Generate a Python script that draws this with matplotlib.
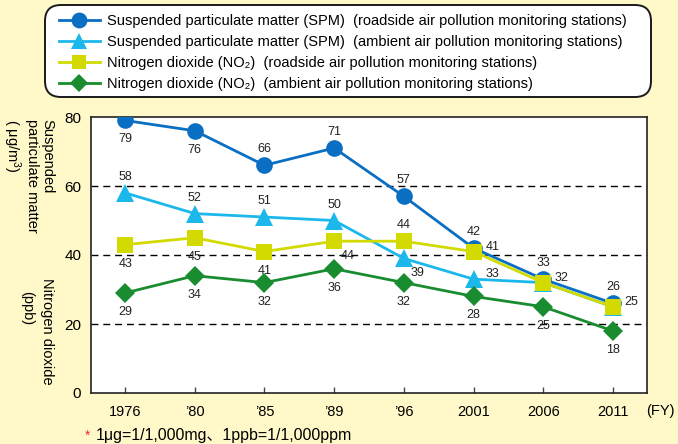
import numpy as np
import matplotlib
matplotlib.use('Agg')
import matplotlib.pyplot as plt
from matplotlib.patches import FancyBboxPatch

plt.rcParams['font.family'] = ['Liberation Sans', 'DejaVu Sans', 'Noto Sans CJK JP']
plt.rcParams['mathtext.fontset'] = 'custom'
plt.rcParams['mathtext.rm'] = 'Liberation Sans'
plt.rcParams['mathtext.it'] = 'Liberation Sans'
plt.rcParams['mathtext.default'] = 'regular'

# Data (fiscal years, SPM in ug/m3, NO2 in ppb)
years = ['1976', '\u201980', '\u201985', '\u201989', '\u201996', '2001', '2006', '2011']
spm_road = [79, 76, 66, 71, 57, 42, 33, 26]
spm_ambient = [58, 52, 51, 50, 39, 33, 32, 25]
no2_road = [43, 45, 41, 44, 44, 41, 32, 25]
no2_ambient = [29, 34, 32, 36, 32, 28, 25, 18]

# where each value label sits: a=above, b=below, r=right, br=below right, ''=none
place_spm_road = ['b', 'b', 'a', 'a', 'a', 'a', 'a', 'a']
place_spm_amb = ['a', 'a', 'a', 'a', 'br', 'r', '', '']
place_no2_road = ['b', 'b', 'b', 'br', 'a', 'r', 'r', 'r']
place_no2_amb = ['b'] * 8

offsets = {'a': (0, 11.5), 'b': (0, -13.7), 'r': (13.5, 3.6), 'br': (10, -10.8)}

bg = '#FFF8C8'
c_road = '#0A6EC2'
c_amb = '#1CB8EC'
c_no2r = '#D2DA00'
c_no2a = '#1A8C30'

fig = plt.figure(figsize=(6.78, 4.44), dpi=100)
fig.patch.set_facecolor(bg)
W, H = 678, 444
ax = fig.add_axes([91 / W, 1 - 393 / H, (647 - 91) / W, (393 - 117) / H])
ax.set_facecolor('white')

x = np.arange(len(years))

series = [
    (spm_road, place_spm_road, c_road, 'o', 12,
     'Suspended particulate matter (SPM)  (roadside air pollution monitoring stations)'),
    (spm_ambient, place_spm_amb, c_amb, '^', 12.5,
     'Suspended particulate matter (SPM)  (ambient air pollution monitoring stations)'),
    (no2_road, place_no2_road, c_no2r, 's', 11,
     'Nitrogen dioxide (NO\u2082)  (roadside air pollution monitoring stations)'),
    (no2_ambient, place_no2_amb, c_no2a, 'D', 10,
     'Nitrogen dioxide (NO\u2082)  (ambient air pollution monitoring stations)'),
]

for yv in [20, 40, 60]:
    ax.axhline(yv, color='black', lw=1, ls=(0, (5, 3.5)), zorder=1)

handles = []
for vals, places, col, mk, ms, lab in series:
    ln, = ax.plot(x, vals, color=col, lw=2, marker=mk, markersize=ms,
                  markeredgewidth=0, label=lab, zorder=3)
    handles.append(ln)
    for xi, v, p in zip(x, vals, places):
        if not p:
            continue
        dx, dy = offsets[p]
        ax.annotate(str(v), (xi, v), xytext=(dx, dy), textcoords='offset points',
                    ha='center', va='center', fontsize=9, color='#222222', zorder=4)

ax.set_xlim(-0.49, 7.49)
ax.set_ylim(0, 80)
ax.set_yticks([0, 20, 40, 60, 80])
ax.set_xticks(x)
ax.set_xticklabels(years)
ax.tick_params(axis='y', length=0, pad=7, labelsize=11)
ax.tick_params(axis='x', direction='in', length=4.5, width=1, color='#444444',
               pad=9, labelsize=10.5)
for s in ax.spines.values():
    s.set_linewidth(1.2)
    s.set_color('#222222')

fig.text(646 / W, 1 - 411 / H, '(FY)', fontsize=10.5, ha='left', va='center')

# y-axis titles
fig.text(28 / W, 1 - 119 / H, 'Suspended\nparticulate matter\n( \u03bcg/m$^3$)',
         rotation=-90, ha='center', va='top', multialignment='left',
         fontsize=10.5, linespacing=1.15)
fig.text(47 / W, 1 - 331 / H, 'Nitrogen dioxide', rotation=-90,
         ha='center', va='center', fontsize=10.5)
fig.text(27 / W, 1 - 308 / H, '(ppb)', rotation=-90,
         ha='center', va='center', fontsize=10.5)

# footnote
fig.text(85 / W, 1 - 436 / H, '*', color='#E8303A', fontsize=10, ha='left', va='center')
fig.text(96 / W, 1 - 435 / H, '1\u03bcg=1/1,000mg\u30011ppb=1/1,000ppm',
         fontsize=11.4, ha='left', va='center',
         family=['Liberation Sans', 'Noto Sans CJK JP'])

# legend box
box = FancyBboxPatch((45, H - 97), 606, 92, boxstyle='round,pad=0,rounding_size=16',
                     transform=None, facecolor='white', edgecolor='#1a1a1a',
                     linewidth=1.4, zorder=0)
fig.patches.append(box)
fig.legend(handles=handles, loc='upper left', bbox_to_anchor=(59 / W, 1 - 14.5 / H),
           frameon=False, fontsize=10.5, handlelength=2.8, handletextpad=0.5,
           labelspacing=0.47, borderpad=0, borderaxespad=0, markerscale=0.95)

fig.savefig('out.png', dpi=100, facecolor=bg)
